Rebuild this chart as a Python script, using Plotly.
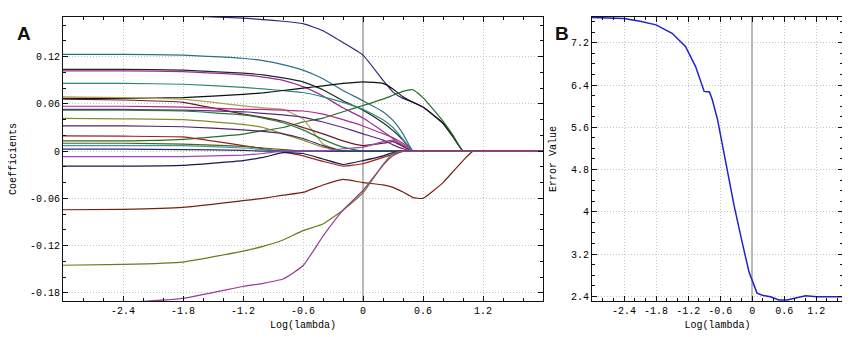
import plotly.graph_objects as go

# ---------------- Panel A data (LASSO coefficient paths) ----------------
log_lambda = [-3.0, -2.4, -1.8, -1.2, -1.0, -0.8, -0.6, -0.4, -0.2, 0.0,
              0.2, 0.3, 0.4, 0.5, 0.6, 0.8, 0.9, 1.0, 1.1, 1.2, 1.8]

coef_1 = [0.176, 0.175, 0.172, 0.169, 0.167, 0.165, 0.162, 0.153, 0.138, 0.122, 0.090, 0.075, 0.067, 0.062, 0.056, 0.036, 0.019, 0, 0, 0, 0]
coef_2 = [0.123, 0.123, 0.122, 0.118, 0.115, 0.110, 0.103, 0.092, 0.077, 0.064, 0.050, 0.039, 0.022, 0, 0, 0, 0, 0, 0, 0, 0]
coef_3 = [0.104, 0.104, 0.103, 0.099, 0.097, 0.093, 0.088, 0.078, 0.064, 0.052, 0.036, 0.026, 0.014, 0, 0, 0, 0, 0, 0, 0, 0]
coef_4 = [0.102, 0.102, 0.101, 0.097, 0.094, 0.090, 0.082, 0.070, 0.055, 0.042, 0.025, 0.016, 0.006, 0, 0, 0, 0, 0, 0, 0, 0]
coef_5 = [0.086, 0.086, 0.085, 0.081, 0.079, 0.077, 0.0745, 0.069, 0.062, 0.053, 0.040, 0.030, 0.015, 0, 0, 0, 0, 0, 0, 0, 0]
coef_6 = [0.067, 0.067, 0.068, 0.072, 0.074, 0.077, 0.080, 0.083, 0.086, 0.088, 0.086, 0.079, 0.069, 0.062, 0.056, 0.035, 0.018, 0, 0, 0, 0]
coef_7 = [0.013, 0.013, 0.015, 0.0216, 0.026, 0.030, 0.037, 0.042, 0.050, 0.058, 0.066, 0.071, 0.076, 0.078, 0.068, 0.038, 0.020, 0, 0, 0, 0]
coef_8 = [0.069, 0.068, 0.066, 0.0575, 0.055, 0.053, 0.041, 0.009, 0, 0, 0, 0, 0, 0, 0, 0, 0, 0, 0, 0, 0]
coef_9 = [0.066, 0.065, 0.062, 0.047, 0.043, 0.038, 0.030, 0.022, 0.013, 0.007, 0.010, 0.012, 0.006, 0, 0, 0, 0, 0, 0, 0, 0]
coef_10 = [0.057, 0.057, 0.056, 0.053, 0.053, 0.052, 0.051, 0.047, 0.040, 0.032, 0.022, 0.017, 0.010, 0, 0, 0, 0, 0, 0, 0, 0]
coef_11 = [0.053, 0.053, 0.052, 0.050, 0.048, 0.046, 0.043, 0.037, 0.030, 0.022, 0.014, 0.008, 0.003, 0, 0, 0, 0, 0, 0, 0, 0]
coef_12 = [0.052, 0.052, 0.051, 0.046, 0.042, 0.036, 0.027, 0.015, 0.005, 0, 0, 0, 0, 0, 0, 0, 0, 0, 0, 0, 0]
coef_13 = [0.0415, 0.041, 0.040, 0.034, 0.030, 0.022, 0.014, 0.005, 0, 0, 0, 0, 0, 0, 0, 0, 0, 0, 0, 0, 0]
coef_14 = [0.032, 0.032, 0.031, 0.027, 0.025, 0.022, 0.016, 0.007, 0, 0, 0, 0, 0, 0, 0, 0, 0, 0, 0, 0, 0]
coef_15 = [0.0195, 0.019, 0.018, 0.007, 0.003, -0.001, -0.006, -0.013, -0.019, -0.016, -0.008, -0.004, 0, 0, 0, 0, 0, 0, 0, 0, 0]
coef_16 = [0.010, 0.010, 0.009, 0.006, 0.004, 0.002, 0, 0, 0, 0, 0, 0, 0, 0, 0, 0, 0, 0, 0, 0, 0]
coef_17 = [0.007, 0.007, 0.007, 0.004, 0.002, 0, 0, 0, 0, 0, 0, 0, 0, 0, 0, 0, 0, 0, 0, 0, 0]
coef_18 = [0.0025, 0.0025, 0.002, 0.001, 0, 0, 0, 0, 0, 0, 0, 0, 0, 0, 0, 0, 0, 0, 0, 0, 0]
coef_19 = [-0.007, -0.007, -0.007, -0.005, -0.003, 0, 0, 0, 0.003, 0.005, 0.012, 0.014, 0.008, 0, 0, 0, 0, 0, 0, 0, 0]
coef_20 = [-0.019, -0.019, -0.018, -0.012, -0.008, -0.002, -0.003, -0.010, -0.017, -0.012, -0.006, -0.002, 0, 0, 0, 0, 0, 0, 0, 0, 0]
coef_21 = [-0.0745, -0.074, -0.0715, -0.063, -0.060, -0.056, -0.0525, -0.043, -0.036, -0.040, -0.043, -0.046, -0.052, -0.059, -0.060, -0.040, -0.026, -0.012, 0, 0, 0]
coef_22 = [-0.145, -0.144, -0.141, -0.127, -0.121, -0.113, -0.101, -0.0927, -0.075, -0.053, -0.017, -0.003, 0, 0, 0, 0, 0, 0, 0, 0, 0]
coef_23 = [-0.194, -0.192, -0.187, -0.172, -0.168, -0.1625, -0.1457, -0.108, -0.075, -0.050, -0.018, -0.006, 0, 0, 0, 0, 0, 0, 0, 0, 0]

coef_paths = [coef_1, coef_2, coef_3, coef_4, coef_5, coef_6, coef_7, coef_8,
              coef_9, coef_10, coef_11, coef_12, coef_13, coef_14, coef_15,
              coef_16, coef_17, coef_18, coef_19, coef_20, coef_21, coef_22, coef_23]
path_colors = ["#2b2b7a", "#2f6f86", "#1e2a1e", "#9a2a9a", "#2a8a7a", "#101010",
               "#2a6a2a", "#b0a050", "#6a1a2a", "#b02a8a", "#5a2a7a", "#2a7a3a",
               "#8a8a2a", "#4a2a6a", "#a02020", "#5a5a1a", "#2aa0a0", "#2a2a6a",
               "#9a4aaa", "#1a1a4a", "#7a2010", "#6a7a1a", "#9a3a9a"]

# ---------------- Panel B data (cross-validation error) ----------------
cv_log_lambda = [-3.0, -2.7, -2.4, -2.1, -1.8, -1.5, -1.25, -1.06, -0.9, -0.8, -0.75,
                 -0.65, -0.55, -0.47, -0.34, -0.19, -0.06, 0.09, 0.19, 0.34, 0.5,
                 0.65, 0.84, 1.0, 1.21, 1.7]
cv_error = [7.68, 7.67, 7.66, 7.61, 7.54, 7.38, 7.13, 6.75, 6.28, 6.27, 6.13,
            5.75, 5.2, 4.81, 4.12, 3.43, 2.86, 2.46, 2.42, 2.39, 2.33,
            2.33, 2.37, 2.41, 2.39, 2.39]

x_ticks = [-2.4, -1.8, -1.2, -0.6, 0, 0.6, 1.2]
x_tick_text = ["-2.4", "-1.8", "-1.2", "-0.6", "0", "0.6", "1.2"]
a_y_ticks = [-0.18, -0.12, -0.06, 0, 0.06, 0.12]
a_y_tick_text = ["-0.18", "-0.12", "-0.06", "0", "0.06", "0.12"]
b_y_ticks = [2.4, 3.2, 4.0, 4.8, 5.6, 6.4, 7.2]
b_y_tick_text = ["2.4", "3.2", "4", "4.8", "5.6", "6.4", "7.2"]

# page body has an 8px default margin; size the figure to fit the window
OFF = 8
W, H = 850 - OFF, 337 - OFF
fig = go.Figure()

for vals, col in zip(coef_paths, path_colors):
    fig.add_trace(go.Scatter(x=log_lambda, y=vals, mode="lines",
                             line=dict(color=col, width=1.2, shape="spline", smoothing=0.4),
                             xaxis="x", yaxis="y", showlegend=False, hoverinfo="skip"))

fig.add_trace(go.Scatter(x=cv_log_lambda, y=cv_error, mode="lines",
                         line=dict(color="#2222cc", width=1.5),
                         xaxis="x2", yaxis="y2", showlegend=False))

tick_font = dict(family="Liberation Mono, DejaVu Sans Mono, monospace", size=10, color="#000")
common_axis = dict(showline=True, linecolor="#111", linewidth=1, mirror="allticks",
                   ticks="inside", ticklen=5, tickcolor="#111", tickwidth=1, tickfont=tick_font,
                   showgrid=True, gridcolor="#c4c4c4", griddash="1px,2px", gridwidth=1)
minor_ticks = dict(ticks="inside", ticklen=3, tickcolor="#111", showgrid=False, tick0=0)


def px_x(p):
    return (p - OFF) / W


def px_y(p):
    return 1 - (p - OFF) / H


fig.update_layout(
    width=W, height=H,
    margin=dict(l=0, r=0, t=0, b=0),
    paper_bgcolor="white", plot_bgcolor="white",
    xaxis=dict(domain=[px_x(63), px_x(543)], range=[-3.0, 1.8], anchor="y",
               tickvals=x_ticks, ticktext=x_tick_text,
               minor=dict(dtick=0.2, **minor_ticks),
               zeroline=True, zerolinecolor="#b8b8b8", zerolinewidth=2,
               title=dict(text="Log(lambda)", font=tick_font, standoff=4),
               **common_axis),
    yaxis=dict(domain=[px_y(303), px_y(17)], range=[-0.1907, 0.1705], anchor="x",
               tickvals=a_y_ticks, ticktext=a_y_tick_text,
               minor=dict(dtick=0.02, **minor_ticks),
               zeroline=False,
               title=dict(text="Coefficients", font=tick_font, standoff=12),
               **common_axis),
    xaxis2=dict(domain=[px_x(592), px_x(843)], range=[-3.0, 1.7], anchor="y2",
                tickvals=x_ticks, ticktext=x_tick_text,
                minor=dict(dtick=0.2, **minor_ticks),
                zeroline=True, zerolinecolor="#b8b8b8", zerolinewidth=2,
                title=dict(text="Log(lambda)", font=tick_font, standoff=4),
                **common_axis),
    yaxis2=dict(domain=[px_y(303), px_y(17)], range=[2.306, 7.69], anchor="x2",
                tickvals=b_y_ticks, ticktext=b_y_tick_text,
                minor=dict(dtick=0.2, **minor_ticks),
                zeroline=False,
                title=dict(text="Error Value", font=tick_font, standoff=12),
                **common_axis),
    annotations=[
        dict(text="<b>A</b>", x=px_x(15), y=px_y(21), xref="paper", yref="paper",
             showarrow=False, font=dict(family="Liberation Sans, Arial", size=19, color="#111")),
        dict(text="<b>B</b>", x=px_x(562), y=px_y(21), xref="paper", yref="paper",
             showarrow=False, font=dict(family="Liberation Sans, Arial", size=19, color="#111")),
    ],
)

fig.write_html("out.html")
